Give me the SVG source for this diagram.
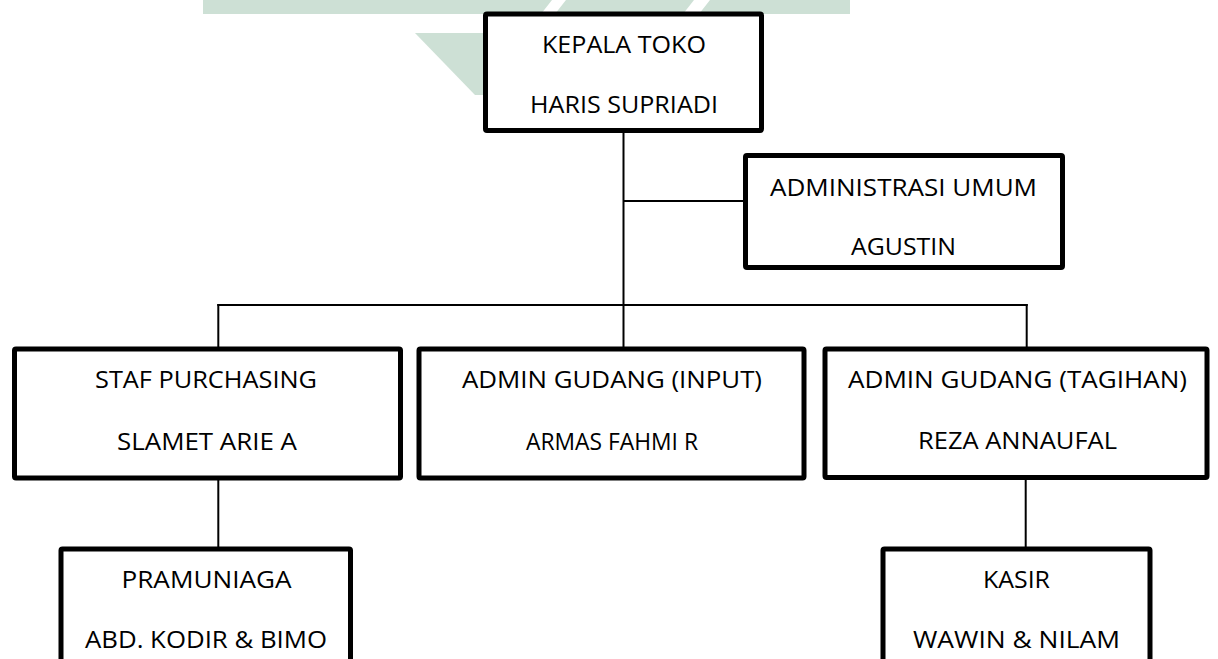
<svg xmlns="http://www.w3.org/2000/svg" width="1218" height="659" viewBox="0 0 1218 659">
<style>
.box{fill:#ffffff;stroke:#000000;stroke-width:5;stroke-linejoin:round}
.con line{stroke:#000000;stroke-width:2}
text{font-family:"Open Sans","Liberation Sans",sans-serif;font-size:24px;fill:#000000;text-anchor:middle}
.wm{fill:#cde0d5}
</style>
<rect width="1218" height="659" fill="#ffffff"/>
<g id="watermark">
<polygon class="wm" points="203,0 552,0 541,14 203,14"/>
<polygon class="wm" points="566,0 694,0 683,14 555,14"/>
<polygon class="wm" points="710,0 850,0 850,14 699,14"/>
<polygon class="wm" points="415,33 490,33 490,95 475,95"/>
</g>
<g id="connectors" class="con">
<line x1="623.5" y1="132" x2="623.5" y2="350"/>
<line x1="623.5" y1="201" x2="746" y2="201"/>
<line x1="217.3" y1="305" x2="1027.7" y2="305"/>
<line x1="218.3" y1="304" x2="218.3" y2="350"/>
<line x1="1026.7" y1="304" x2="1026.7" y2="350"/>
<line x1="218.3" y1="478" x2="218.3" y2="550"/>
<line x1="1025.7" y1="477" x2="1025.7" y2="550"/>
</g>
<g id="kepala-toko">
<rect class="box" x="485.5" y="14" width="276" height="116.5" rx="1.5"/>
<text x="624" y="53" textLength="164" lengthAdjust="spacingAndGlyphs">KEPALA TOKO</text>
<text x="624" y="113" textLength="188" lengthAdjust="spacingAndGlyphs">HARIS SUPRIADI</text>
</g>
<g id="administrasi-umum">
<rect class="box" x="745.5" y="155.5" width="317" height="112" rx="1.5"/>
<text x="903.5" y="196" textLength="267" lengthAdjust="spacingAndGlyphs">ADMINISTRASI UMUM</text>
<text x="903.5" y="255" textLength="105" lengthAdjust="spacingAndGlyphs">AGUSTIN</text>
</g>
<g id="staf-purchasing">
<rect class="box" x="14.5" y="349" width="386" height="129" rx="1.5"/>
<text x="206" y="388" textLength="222" lengthAdjust="spacingAndGlyphs">STAF PURCHASING</text>
<text x="207" y="450" textLength="180" lengthAdjust="spacingAndGlyphs">SLAMET ARIE A</text>
</g>
<g id="admin-gudang-input">
<rect class="box" x="419" y="349" width="385" height="129" rx="1.5"/>
<text x="612" y="388" textLength="300" lengthAdjust="spacingAndGlyphs">ADMIN GUDANG (INPUT)</text>
<text x="612" y="450" textLength="172" lengthAdjust="spacingAndGlyphs">ARMAS FAHMI R</text>
</g>
<g id="admin-gudang-tagihan">
<rect class="box" x="825" y="349" width="382" height="128.5" rx="1.5"/>
<text x="1017.5" y="388" textLength="339" lengthAdjust="spacingAndGlyphs">ADMIN GUDANG (TAGIHAN)</text>
<text x="1017.5" y="449" textLength="199" lengthAdjust="spacingAndGlyphs">REZA ANNAUFAL</text>
</g>
<g id="pramuniaga">
<rect class="box" x="61" y="549" width="289.5" height="140" rx="1.5"/>
<text x="206.5" y="588" textLength="170" lengthAdjust="spacingAndGlyphs">PRAMUNIAGA</text>
<text x="206" y="648" textLength="242" lengthAdjust="spacingAndGlyphs">ABD. KODIR &amp; BIMO</text>
</g>
<g id="kasir">
<rect class="box" x="883" y="549" width="267" height="140" rx="1.5"/>
<text x="1016.5" y="588" textLength="67" lengthAdjust="spacingAndGlyphs">KASIR</text>
<text x="1016.5" y="648" textLength="207" lengthAdjust="spacingAndGlyphs">WAWIN &amp; NILAM</text>
</g>
</svg>
